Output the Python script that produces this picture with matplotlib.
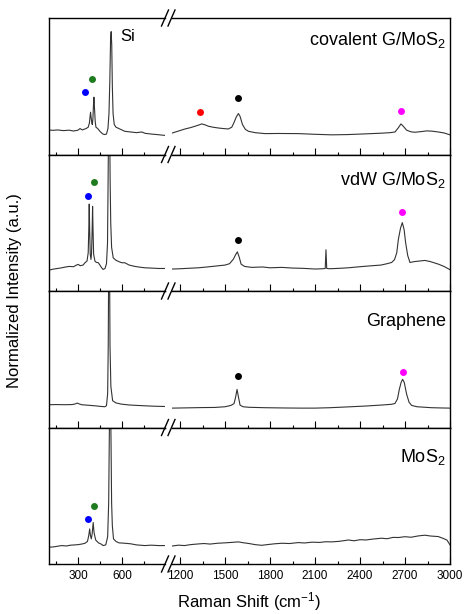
import matplotlib
matplotlib.use("Agg")
import matplotlib.pyplot as plt
from matplotlib.lines import Line2D

plt.rcParams["font.family"] = ["Liberation Sans", "DejaVu Sans"]
plt.rcParams["mathtext.fontset"] = "custom"
plt.rcParams["mathtext.rm"] = "Liberation Sans"
plt.rcParams["mathtext.it"] = "Liberation Sans"
plt.rcParams["mathtext.default"] = "regular"

# ---- spectra (intensity as fraction of panel height) ----
cov_left_x = [102, 130, 160, 200, 240, 270, 300, 314, 330, 355, 370, 378, 383, 386, 390, 395,
              398, 402, 406, 409, 413, 418, 423, 435, 450, 470, 484, 495, 505, 512, 518, 523,
              527, 531, 535, 540, 548, 560, 580, 620, 660, 700, 736, 760, 800, 850, 893]
cov_left_y = [0.18, 0.177, 0.18, 0.175, 0.178, 0.172, 0.178, 0.19, 0.18, 0.19, 0.2, 0.23, 0.28,
              0.31, 0.27, 0.23, 0.22, 0.26, 0.36, 0.42, 0.34, 0.24, 0.20, 0.19, 0.17, 0.15,
              0.146, 0.15, 0.19, 0.30, 0.55, 0.85, 0.90, 0.80, 0.50, 0.30, 0.22, 0.20, 0.19,
              0.17, 0.165, 0.16, 0.165, 0.155, 0.15, 0.145, 0.14]
cov_right_x = [1149, 1190, 1233, 1270, 1300, 1325, 1344, 1365, 1389, 1420, 1456, 1490, 1522,
               1545, 1560, 1575, 1589, 1600, 1616, 1635, 1656, 1700, 1767, 1850, 1989, 2100,
               2211, 2320, 2433, 2540, 2600, 2633, 2655, 2673, 2690, 2711, 2740, 2767, 2810,
               2844, 2880, 2922, 2960, 3000]
cov_right_y = [0.158, 0.172, 0.187, 0.197, 0.207, 0.216, 0.224, 0.218, 0.207, 0.20, 0.194,
               0.19, 0.187, 0.20, 0.235, 0.275, 0.30, 0.28, 0.22, 0.185, 0.17, 0.16, 0.153,
               0.154, 0.153, 0.148, 0.144, 0.146, 0.151, 0.156, 0.16, 0.165, 0.195, 0.224,
               0.205, 0.178, 0.166, 0.163, 0.168, 0.173, 0.171, 0.165, 0.158, 0.144]

vdw_left_x = [102, 130, 160, 190, 211, 240, 270, 290, 302, 315, 335, 348, 362, 370, 374, 377,
              380, 384, 389, 393, 397, 400, 403, 407, 416, 425, 439, 450, 462, 472, 485, 495,
              502, 506, 509, 513, 517, 520, 524, 530, 541, 560, 580, 600, 620, 650, 690, 720,
              757, 800, 850, 893]
vdw_left_y = [0.153, 0.16, 0.165, 0.17, 0.175, 0.18, 0.178, 0.19, 0.195, 0.185, 0.19, 0.207,
              0.22, 0.28, 0.45, 0.637, 0.45, 0.27, 0.231, 0.28, 0.45, 0.62, 0.45, 0.27, 0.219,
              0.21, 0.207, 0.19, 0.17, 0.158, 0.165, 0.2, 0.35, 0.8, 1.2, 1.6, 1.2, 0.8, 0.5,
              0.32, 0.243, 0.225, 0.215, 0.207, 0.207, 0.19, 0.18, 0.175, 0.17, 0.168, 0.165,
              0.165]
vdw_right_x = [1149, 1200, 1250, 1322, 1380, 1440, 1500, 1530, 1556, 1570, 1582, 1594, 1607,
               1630, 1678, 1750, 1800, 1878, 1950, 2020, 2100, 2150, 2168, 2173, 2178, 2200,
               2260, 2322, 2400, 2478, 2540, 2580, 2611, 2630, 2645, 2656, 2670, 2682, 2694,
               2704, 2718, 2733, 2760, 2800, 2833, 2870, 2922, 2960, 3000]
vdw_right_y = [0.161, 0.163, 0.166, 0.17, 0.176, 0.183, 0.19, 0.2, 0.234, 0.265, 0.287, 0.25,
               0.197, 0.18, 0.173, 0.176, 0.17, 0.173, 0.168, 0.166, 0.161, 0.163, 0.165,
               0.302, 0.165, 0.163, 0.166, 0.17, 0.178, 0.185, 0.19, 0.2, 0.209, 0.23, 0.28,
               0.38, 0.46, 0.501, 0.45, 0.355, 0.26, 0.209, 0.215, 0.22, 0.224, 0.215, 0.197,
               0.18, 0.156]

gr_left_x = [102, 150, 211, 260, 280, 295, 310, 325, 370, 416, 450, 484, 495, 503, 507, 510,
             513, 516, 519, 525, 537, 560, 598, 650, 700, 757, 820, 893]
gr_left_y = [0.167, 0.168, 0.167, 0.168, 0.172, 0.179, 0.172, 0.167, 0.163, 0.159, 0.155,
             0.152, 0.16, 0.25, 0.6, 1.2, 1.5, 1.2, 0.6, 0.3, 0.196, 0.18, 0.171, 0.165, 0.162,
             0.159, 0.156, 0.154]
gr_right_x = [1149, 1250, 1350, 1433, 1500, 1540, 1560, 1570, 1580, 1590, 1600, 1620, 1660,
              1767, 1900, 2000, 2100, 2200, 2300, 2433, 2550, 2610, 2633, 2650, 2662, 2674,
              2684, 2695, 2711, 2727, 2744, 2780, 2878, 2950, 3000]
gr_right_y = [0.142, 0.144, 0.146, 0.147, 0.152, 0.162, 0.175, 0.22, 0.279, 0.22, 0.164, 0.152,
              0.148, 0.145, 0.143, 0.142, 0.142, 0.145, 0.15, 0.157, 0.165, 0.17, 0.176, 0.21,
              0.279, 0.33, 0.353, 0.33, 0.243, 0.185, 0.162, 0.152, 0.145, 0.143, 0.142]

mos_left_x = [102, 130, 160, 189, 220, 250, 280, 302, 325, 348, 365, 374, 380, 385, 391, 397,
              404, 410, 421, 440, 460, 472, 490, 503, 510, 514, 520, 526, 530, 535, 543, 560,
              580, 620, 660, 700, 757, 800, 850, 893]
mos_left_y = [0.123, 0.125, 0.13, 0.135, 0.132, 0.138, 0.14, 0.142, 0.146, 0.152, 0.165, 0.21,
              0.257, 0.21, 0.184, 0.22, 0.304, 0.23, 0.176, 0.155, 0.145, 0.135, 0.14, 0.2,
              0.45, 0.9, 1.5, 0.9, 0.45, 0.28, 0.184, 0.165, 0.155, 0.152, 0.148, 0.14, 0.135,
              0.138, 0.135, 0.135]
mos_right_x = [1149, 1190, 1230, 1270, 1322, 1360, 1400, 1450, 1500, 1540, 1589, 1620, 1660,
               1700, 1744, 1790, 1830, 1880, 1930, 1989, 2030, 2080, 2130, 2170, 2211, 2260,
               2300, 2322, 2360, 2400, 2440, 2480, 2544, 2580, 2620, 2656, 2700, 2740, 2790,
               2833, 2870, 2922, 2960, 2980, 3000]
mos_right_y = [0.132, 0.138, 0.135, 0.142, 0.147, 0.150, 0.146, 0.152, 0.155, 0.158, 0.162,
               0.156, 0.150, 0.142, 0.137, 0.143, 0.148, 0.152, 0.150, 0.157, 0.154, 0.160,
               0.158, 0.163, 0.162, 0.166, 0.172, 0.176, 0.170, 0.178, 0.176, 0.182, 0.189,
               0.185, 0.195, 0.194, 0.200, 0.196, 0.206, 0.211, 0.205, 0.201, 0.185, 0.175,
               0.140]

# peak markers
cov_dot_x = [350, 395, 1335, 1589, 2673]
cov_dot_y = [0.458, 0.553, 0.309, 0.414, 0.321]
cov_dot_c = ["#0000ff", "#1e7b1e", "#ff0000", "#000000", "#ff00ff"]
vdw_dot_x = [368, 411, 1589, 2682]
vdw_dot_y = [0.693, 0.796, 0.372, 0.582]
vdw_dot_c = ["#0000ff", "#1e7b1e", "#000000", "#ff00ff"]
gr_dot_x = [1584, 2687]
gr_dot_y = [0.375, 0.41]
gr_dot_c = ["#000000", "#ff00ff"]
mos_dot_x = [368, 411]
mos_dot_y = [0.333, 0.426]
mos_dot_c = ["#0000ff", "#1e7b1e"]

labels = ["covalent G/MoS$_2$", "vdW G/MoS$_2$", "Graphene", "MoS$_2$"]
label_y = [0.80, 0.78, 0.74, 0.745]

panels = [
    (cov_left_x, cov_left_y, cov_right_x, cov_right_y, cov_dot_x, cov_dot_y, cov_dot_c),
    (vdw_left_x, vdw_left_y, vdw_right_x, vdw_right_y, vdw_dot_x, vdw_dot_y, vdw_dot_c),
    (gr_left_x, gr_left_y, gr_right_x, gr_right_y, gr_dot_x, gr_dot_y, gr_dot_c),
    (mos_left_x, mos_left_y, mos_right_x, mos_right_y, mos_dot_x, mos_dot_y, mos_dot_c),
]

W, H = 467, 614
fig = plt.figure(figsize=(W / 100, H / 100), dpi=100)

# layout in pixels
x0, xb1, xb2, x1 = 49, 165, 171.5, 450
top, bottom = 18, 564
ph = (bottom - top) / 4
line_col = "#333333"


def style(ax, show_labels):
    ax.set_yticks([])
    ax.tick_params(axis="x", which="both", direction="in", top=False, bottom=True,
                   labelbottom=show_labels, labelsize=8.5, pad=4, width=0.8)
    ax.tick_params(axis="x", which="major", length=5)
    ax.tick_params(axis="x", which="minor", length=2.5)
    for s in ax.spines.values():
        s.set_linewidth(1.0)


for i, (lx, ly, rx, ry, dx, dy, dc) in enumerate(panels):
    ytop = top + i * ph
    yb = 1 - (ytop + ph) / H
    axl = fig.add_axes([x0 / W, yb, (xb1 - x0) / W, ph / H])
    axr = fig.add_axes([xb2 / W, yb, (x1 - xb2) / W, ph / H])
    last = i == len(panels) - 1

    axl.plot(lx, ly, color=line_col, lw=0.8)
    axr.plot(rx, ry, color=line_col, lw=0.8)
    for x, y, c in zip(dx, dy, dc):
        ax = axl if x < 1000 else axr
        ax.plot([x], [y], "o", color=c, ms=5, mec="none")

    axl.set_xlim(102, 895)
    axr.set_xlim(1143, 3000)
    for ax in (axl, axr):
        ax.set_ylim(0, 1)
    axl.set_xticks([300, 600])
    axl.set_xticks([150, 450, 750], minor=True)
    axr.set_xticks([1200, 1500, 1800, 2100, 2400, 2700, 3000])
    axr.set_xticks([1350, 1650, 1950, 2250, 2550, 2850], minor=True)
    axl.spines["right"].set_visible(False)
    axr.spines["left"].set_visible(False)
    style(axl, last)
    style(axr, last)

    axr.text(0.985, label_y[i], labels[i], transform=axr.transAxes, ha="right",
             va="baseline", fontsize=13)
    if i == 0:
        axl.text(586, 0.863, "Si", ha="left", va="center", fontsize=12)

# break marks on each horizontal boundary
for k in range(5):
    yy = top + k * ph
    for xc in (xb1, xb2):
        fig.add_artist(Line2D([(xc - 3.5) / W, (xc + 3.5) / W],
                              [1 - (yy + 8) / H, 1 - (yy - 8) / H],
                              color="black", lw=1.0))

fig.text(249.5 / W, 1 - 602 / H, "Raman Shift (cm$^{-1}$)", ha="center", va="center",
         fontsize=12)
fig.text(15 / W, 1 - 291 / H, "Normalized Intensity (a.u.)", ha="center", va="center",
         rotation=90, fontsize=12)

fig.savefig("out.png", dpi=100)
